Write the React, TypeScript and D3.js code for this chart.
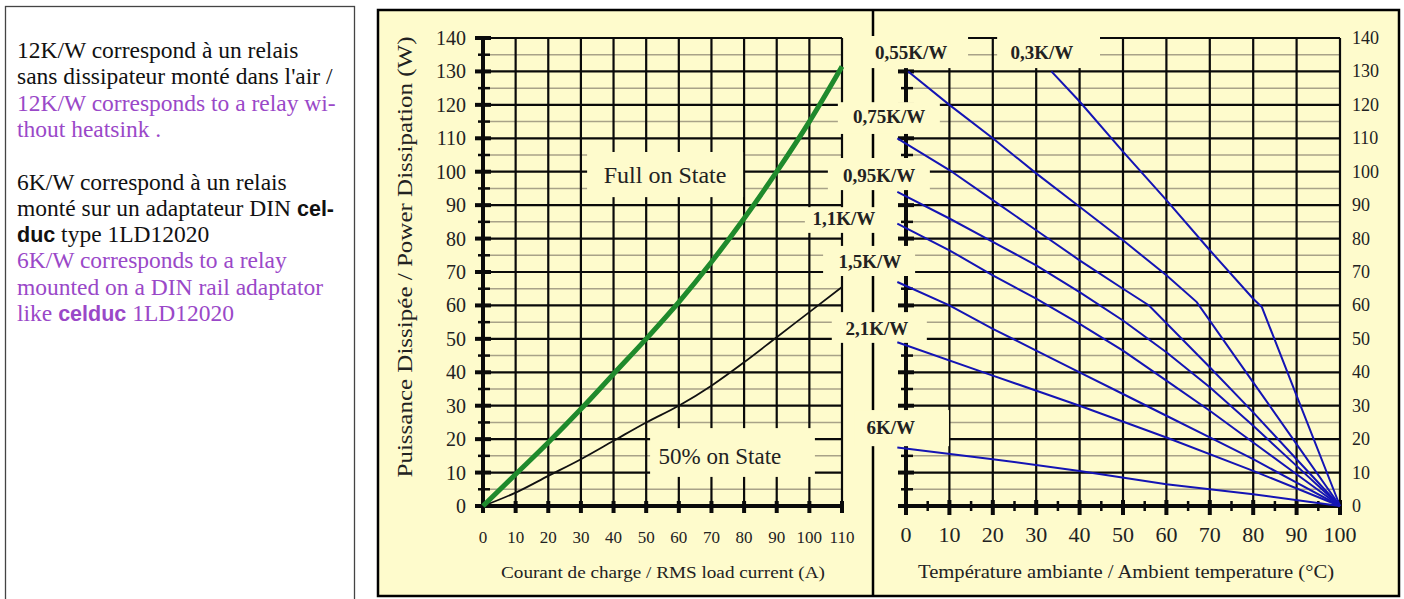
import * as d3 from 'd3'

// ---- axes ----
const currentTicks = [0, 10, 20, 30, 40, 50, 60, 70, 80, 90, 100, 110]
const powerTicks = [0, 10, 20, 30, 40, 50, 60, 70, 80, 90, 100, 110, 120, 130, 140]
const powerMinor = [5, 15, 25, 35, 45, 55, 65, 75, 85, 95, 105, 115, 125, 135]
const tempTicks = [0, 10, 20, 30, 40, 50, 60, 70, 80, 90, 100]
const tempMinor = [5, 15, 25, 35, 45, 55, 65, 75, 85, 95]

// ---- left panel: dissipated power vs load current ----
const loadCurrent = [0, 10, 20, 30, 40, 50, 60, 70, 80, 90, 100, 110]
const fullOnPower = [0, 9.5, 19, 29, 39.5, 50, 61, 73, 86, 100, 115, 131.5]
const halfOnPower = [0, 4, 9, 14, 19.5, 25, 30, 36, 43, 50.5, 58, 65.5]

// ---- right panel: max power vs ambient temperature, per heatsink Rth ----
const r030Temp = [33.5, 40, 50, 60, 70, 80, 82, 90, 100]
const r030Power = [130, 121, 106, 91.5, 76.5, 62, 59.5, 33, 0]
const r055Temp = [0.5, 10, 20, 30, 40, 50, 60, 67, 80, 90, 100]
const r055Power = [130, 120, 110, 99.5, 89.5, 79.5, 69, 61, 37, 18.5, 0]
const r075Temp = [-2, 10, 20, 30, 40, 50, 56, 70, 80, 90, 100]
const r075Power = [110, 100.5, 91.5, 82.5, 73.5, 65, 60, 41.5, 28, 14, 0]
const r095Temp = [-2, 10, 20, 30, 40, 50, 60, 70, 80, 90, 100]
const r095Power = [94, 86, 79, 72, 64, 55.5, 46, 35.5, 24, 12, 0]
const r110Temp = [-2, 10, 20, 30, 40, 50, 60, 70, 80, 90, 100]
const r110Power = [84.5, 76.5, 69, 62, 54.5, 46.5, 37.5, 28.5, 19, 9.5, 0]
const r150Temp = [-2, 10, 20, 30, 40, 50, 60, 70, 80, 90, 100]
const r150Power = [67, 60, 53, 46.5, 40, 33.5, 27, 20.5, 14, 7, 0]
const r210Temp = [-2, 20, 40, 60, 80, 100]
const r210Power = [49, 39, 30, 20.5, 10.5, 0]
const r600Temp = [-2, 20, 40, 60, 80, 100]
const r600Power = [17.5, 14, 10.5, 6.5, 3.5, 0]

const rthNames = ['0,55K/W', '0,3K/W', '0,75K/W', '0,95K/W', '1,1K/W', '1,5K/W', '2,1K/W', '6K/W']

// label placement (temperature / power units of the right panel)
const rthLabelPos = [
  {t: 1.2, p: 135.8, box: [-10.1, 14.3, 140.6, 131]},
  {t: 31.3, p: 135.8, box: [21, 44.7, 140.6, 131]},
  {t: -3.9, p: 116.4, box: [-15.7, 7.8, 120.8, 111.3]},
  {t: -6.2, p: 99, box: [-18, 5.5, 104.1, 94.5]},
  {t: -14.3, p: 86.1, box: [-23.3, -5.5, 89.4, 81.7]},
  {t: -8.3, p: 73, box: [-19.1, 2.1, 77.8, 68.8]},
  {t: -6.7, p: 53.2, box: [-17.1, 4.8, 58, 48.8]},
  {t: -3.5, p: 23.6, box: [-11.8, 9.9, 28.7, 17.9]},
]

const noteLines: {text: string; bold?: boolean}[][] = [
  [{text: '12K/W correspond à un relais'}],
  [{text: "sans dissipateur monté dans l'air /"}],
  [{text: '12K/W corresponds to a relay wi-'}],
  [{text: 'thout heatsink .'}],
  [],
  [{text: '6K/W correspond à un relais'}],
  [{text: 'monté sur un adaptateur DIN '}, {text: 'cel-', bold: true}],
  [{text: 'duc', bold: true}, {text: ' type 1LD12020'}],
  [{text: '6K/W corresponds to a relay'}],
  [{text: 'mounted on a DIN rail adaptator'}],
  [{text: 'like '}, {text: 'celduc', bold: true}, {text: ' 1LD12020'}],
]
const noteColors = ['#111', '#111', '#9a48c8', '#9a48c8', '#111', '#111', '#111', '#111', '#9a48c8', '#9a48c8', '#9a48c8']

const BG = '#fefbcc'
const MAJOR = '#0a0a0a'
const MINOR = '#a8a288'
const BLUE = '#1414b4'
const GREEN = '#1f8a2c'
const SERIF = '"Liberation Serif", "Times New Roman", serif'
const SANS = '"Liberation Sans", Arial, sans-serif'

export default function App() {
  const width = 1404
  const height = 599

  const x = d3.scaleLinear().domain([0, 110]).range([483, 842])
  const y = d3.scaleLinear().domain([0, 140]).range([506, 38])
  const xt = d3.scaleLinear().domain([0, 100]).range([906, 1340])

  const leftLine = d3.line<number>().x((_, i) => x(loadCurrent[i])).y(d => y(d)).curve(d3.curveMonotoneX)

  const curves = [
    [r055Temp, r055Power],
    [r030Temp, r030Power],
    [r075Temp, r075Power],
    [r095Temp, r095Power],
    [r110Temp, r110Power],
    [r150Temp, r150Power],
    [r210Temp, r210Power],
    [r600Temp, r600Power],
  ]
  const rightLine = (temps: number[], powers: number[]) =>
    d3.line<number>().x(d => xt(d)).y((_, i) => y(powers[i]))(temps) ?? undefined

  const grid = (xs: d3.ScaleLinear<number, number>, xTicks: number[], xMax: number) => (
    <g>
      {powerMinor.map(p => (
        <line key={'m' + p} x1={xs(0)} x2={xs(xMax)} y1={y(p)} y2={y(p)} stroke={MINOR} strokeWidth={1.5} />
      ))}
      {powerTicks.slice(1).map(p => (
        <line key={'h' + p} x1={xs(0)} x2={xs(xMax)} y1={y(p)} y2={y(p)} stroke={MAJOR} strokeWidth={2.2} />
      ))}
      {xTicks.slice(1).map(v => (
        <line key={'v' + v} x1={xs(v)} x2={xs(v)} y1={y(0)} y2={y(140)} stroke={MAJOR} strokeWidth={2.2} />
      ))}
    </g>
  )

  const yAxis = (x0: number) => (
    <g stroke={MAJOR}>
      <line x1={x0} x2={x0} y1={y(0) + 2} y2={y(140)} strokeWidth={4} />
      {powerTicks.map(p => (
        <line key={'t' + p} x1={x0 - 8} x2={x0 + 8} y1={y(p)} y2={y(p)} strokeWidth={4} />
      ))}
      {powerMinor.map(p => (
        <line key={'n' + p} x1={x0 - 5} x2={x0 + 7} y1={y(p)} y2={y(p)} strokeWidth={2.5} />
      ))}
    </g>
  )

  return (
    <svg width={width} height={height} style={{position: 'absolute', left: 0, top: 0, background: '#fff'}}>
      {/* note box */}
      <rect x={5.5} y={6.5} width={349} height={640} fill="#fff" stroke="#444" strokeWidth={1.3} />
      <g fontFamily={SERIF} fontSize={23.5}>
        {noteLines.map((segs, i) => (
          <text key={i} x={17} y={58 + i * 26.3} fill={noteColors[i]}>
            {segs.map((s, j) => (
              <tspan key={j} fontFamily={s.bold ? SANS : SERIF} fontWeight={s.bold ? 700 : 400} fontSize={s.bold ? 21.5 : 23.5}>
                {s.text}
              </tspan>
            ))}
          </text>
        ))}
      </g>

      {/* chart frame */}
      <rect x={378} y={10} width={1021} height={586} fill={BG} stroke="#000" strokeWidth={2.5} />

      {grid(x, currentTicks, 110)}
      {grid(xt, tempTicks, 100)}

      {/* left axes */}
      {yAxis(x(0))}
      <g stroke={MAJOR}>
        <line x1={x(0)} x2={x(110) + 1} y1={y(0)} y2={y(0)} strokeWidth={4} />
        {currentTicks.map(c => (
          <line key={c} x1={x(c)} x2={x(c)} y1={y(0) - 5} y2={y(0) + 7} strokeWidth={4} />
        ))}
      </g>

      {/* right axes */}
      {yAxis(xt(0))}
      <g stroke={MAJOR}>
        <line x1={xt(0)} x2={xt(100) + 1} y1={y(0)} y2={y(0)} strokeWidth={4} />
        {tempTicks.map(t => (
          <line key={t} x1={xt(t)} x2={xt(t)} y1={y(0) - 6} y2={y(0) + 9} strokeWidth={4} />
        ))}
        {tempMinor.map(t => (
          <line key={'m' + t} x1={xt(t)} x2={xt(t)} y1={y(0) - 5} y2={y(0) + 5} strokeWidth={2.5} />
        ))}
      </g>

      {/* separator */}
      <line x1={873} x2={873} y1={10} y2={596} stroke="#000" strokeWidth={2.5} />

      {/* label boxes hiding the grid */}
      {rthLabelPos.map((l, i) => (
        <rect
          key={i}
          x={xt(l.box[0])}
          y={y(l.box[2])}
          width={xt(l.box[1]) - xt(l.box[0])}
          height={y(l.box[3]) - y(l.box[2])}
          fill={BG}
        />
      ))}
      <rect x={x(31.9)} y={y(105.9)} width={x(79.7) - x(31.9)} height={y(92.4) - y(105.9)} fill={BG} />
      <rect x={x(51.2)} y={y(23.3)} width={x(101.7) - x(51.2)} height={y(8.7) - y(23.3)} fill={BG} />

      {/* curves */}
      <path d={leftLine(halfOnPower) ?? undefined} fill="none" stroke="#111" strokeWidth={1.8} />
      <path d={leftLine(fullOnPower) ?? undefined} fill="none" stroke={GREEN} strokeWidth={5} />
      {curves.map(([t, p], i) => (
        <path key={i} d={rightLine(t, p)} fill="none" stroke={BLUE} strokeWidth={2} />
      ))}

      {/* text */}
      <g fontFamily={SERIF} fill="#222">
        <text x={x(55.8)} y={y(99)} textAnchor="middle" dominantBaseline="central" fontSize={24}>
          Full on State
        </text>
        <text x={x(72.6)} y={y(14.7)} textAnchor="middle" dominantBaseline="central" fontSize={23}>
          50% on State
        </text>
        {rthNames.map((n, i) => (
          <text
            key={n}
            x={xt(rthLabelPos[i].t)}
            y={y(rthLabelPos[i].p)}
            textAnchor="middle"
            dominantBaseline="central"
            fontSize={19}
            fontWeight={700}
          >
            {n}
          </text>
        ))}

        {powerTicks.map(p => (
          <text key={'l' + p} x={466} y={y(p)} textAnchor="end" dominantBaseline="central" fontSize={20}>
            {p}
          </text>
        ))}
        {powerTicks.map(p => (
          <text key={'r' + p} x={1352} y={y(p)} dominantBaseline="central" fontSize={18}>
            {p}
          </text>
        ))}
        {currentTicks.map(c => (
          <text key={'c' + c} x={x(c)} y={543} textAnchor="middle" fontSize={17}>
            {c}
          </text>
        ))}
        {tempTicks.map(t => (
          <text key={'t' + t} x={xt(t)} y={542} textAnchor="middle" fontSize={22}>
            {t}
          </text>
        ))}

        <text x={663} y={578} textAnchor="middle" fontSize={17} textLength={324} lengthAdjust="spacingAndGlyphs">
          Courant de charge / RMS load current (A)
        </text>
        <text x={1126} y={578} textAnchor="middle" fontSize={18} textLength={416} lengthAdjust="spacingAndGlyphs">
          Température ambiante / Ambient temperature (°C)
        </text>
        <text
          transform="translate(412, 257) rotate(-90)"
          textAnchor="middle"
          fontSize={20}
          textLength={441}
          lengthAdjust="spacingAndGlyphs"
        >
          Puissance Dissipée / Power Dissipation (W)
        </text>
      </g>
    </svg>
  )
}
